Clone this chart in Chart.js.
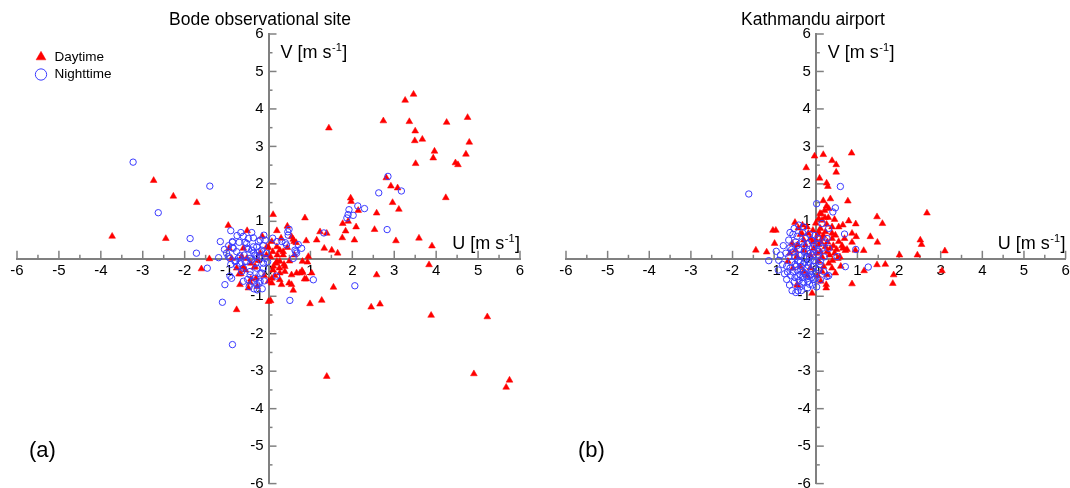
<!DOCTYPE html>
<html>
<head>
<meta charset="utf-8">
<script src="https://cdn.jsdelivr.net/npm/chart.js@4.4.0/dist/chart.umd.min.js"></script>
<style>
html,body{margin:0;padding:0;background:#fff;overflow:hidden;width:1070px;height:488px;}
#wa{position:absolute;left:0;top:0;width:540px;height:488px;}
#wb{position:absolute;left:540px;top:0;width:530px;height:488px;}
</style>
</head>
<body>
<div id="wa"><canvas id="ca"></canvas></div>
<div id="wb"><canvas id="cb"></canvas></div>
<script>
// ---------- data: [U, V] in m s-1 ----------
const bodeDay = [
  [-3.73,0.60],[-2.74,2.09],[-2.27,1.67],[-1.71,1.50],[-2.45,0.54],[-0.96,0.89],[-0.51,0.75],[-0.94,0.28],
  [-1.41,0.00],[-1.60,-0.27],[-0.76,-1.36],[-0.66,-0.40],[-0.44,-0.63],[-0.27,-0.74],[-0.30,-0.52],[0.00,-1.14],
  [0.05,-1.12],[0.08,-0.52],[0.31,-0.69],[0.49,-0.65],[0.67,-0.38],[0.82,-0.37],[0.86,-0.54],[0.90,-0.54],
  [0.99,-1.20],[1.27,-1.11],[1.55,-0.76],[0.11,1.18],[0.45,0.87],[0.87,1.09],[0.59,0.52],[0.66,0.43],
  [0.90,0.48],[1.15,0.50],[1.23,0.72],[1.39,0.68],[1.33,0.28],[1.51,0.23],[1.65,0.15],[1.76,0.56],
  [1.77,0.94],[1.84,0.74],[1.90,1.00],[1.96,1.62],[1.97,1.53],[2.14,1.29],[2.09,0.85],[2.05,0.50],
  [3.46,4.39],[3.26,4.23],[2.74,3.68],[3.36,3.66],[4.25,3.64],[4.75,3.77],[1.44,3.49],[3.50,3.41],
  [3.49,3.15],[3.67,3.19],[4.79,3.11],[3.96,2.87],[3.93,2.69],[4.71,2.79],[3.51,2.54],[4.46,2.56],
  [4.52,2.51],[2.81,2.16],[2.92,1.94],[3.08,1.89],[2.96,1.50],[3.11,1.32],[4.23,1.63],[2.58,1.22],
  [2.53,0.78],[3.04,0.48],[3.59,0.55],[3.90,0.34],[3.83,-0.16],[2.58,-0.43],[0.81,-0.07],[0.93,-0.09],
  [0.80,-0.32],[1.03,-0.38],[0.95,0.06],[2.45,-1.29],[2.66,-1.21],[3.88,-1.51],[5.22,-1.55],[1.39,-3.14],
  [4.90,-3.07],[5.75,-3.24],[5.67,-3.43],[0.59,-0.84],
  [-0.60,0.28],[0.08,0.46],[0.20,0.32],[0.00,0.30],[0.35,0.19],[0.10,0.19],[0.21,0.10],[-0.88,0.01],
  [-0.60,-0.23],[-0.70,-0.41],[-0.76,-0.25],[-0.34,-0.23],[-0.42,-0.54],[0.00,-0.60],[0.18,-0.12],[0.27,-0.07],
  [0.37,-0.15],[0.50,-0.06],[0.26,-0.25],[0.39,-0.34],[0.55,-0.43],[0.27,-0.56],[0.08,-0.65],[0.55,-0.69],
  [0.75,-0.38],[-0.68,-0.69],[-0.48,-0.78],[0.55,0.59],[0.61,0.46],[-0.64,0.06],[-0.52,0.01],[-0.42,-0.12],
  [-0.32,-0.21],[-0.20,0.15],[-0.04,0.32],[0.27,0.23],[0.35,0.10],[0.20,-0.07],[0.11,-0.30],[0.27,-0.38],
  [0.39,-0.21],[-0.15,0.60],[-0.05,0.10],[0.05,0.05],[0.12,-0.20],[-0.10,-0.45],[0.15,-0.45],[-0.55,-0.30],
  [0.45,0.30],[0.62,0.10],[-0.25,-0.05],[0.30,0.55],[0.20,0.75]
];
const bodeNight = [
  [-3.23,2.58],[-1.40,1.94],[-2.63,1.23],[-1.87,0.54],[-1.72,0.15],[-0.90,0.75],[-0.66,0.70],[-1.15,0.46],
  [-0.86,0.44],[-1.46,-0.25],[-0.36,0.56],[-0.11,0.63],[-1.19,0.03],[-1.04,-0.69],[-1.10,-1.16],[-0.88,-0.52],
  [-0.92,-0.46],[-0.46,-0.74],[-0.35,-0.80],[-0.22,-0.65],[0.19,-0.46],[0.51,-1.11],[1.07,-0.56],[2.06,-0.72],
  [0.46,0.72],[0.47,0.63],[0.40,0.43],[0.43,0.37],[0.63,0.23],[0.65,0.19],[1.32,0.69],[1.87,1.09],
  [1.90,1.18],[2.13,1.41],[-0.86,-2.29],[2.85,2.20],[3.17,1.81],[2.63,1.76],[2.29,1.34],[1.92,1.31],
  [2.02,1.16],[2.83,0.78],[0.49,0.79],
  [-0.48,0.54],[-0.56,0.44],[-0.70,0.44],[-0.24,0.46],[-0.86,0.30],[-0.76,0.19],[-0.48,0.26],[-0.36,0.32],
  [-0.12,0.35],[0.32,0.46],[0.71,0.38],[0.79,0.28],[-0.22,0.19],[-0.28,0.08],[-0.68,0.08],[-0.78,-0.06],
  [-0.52,-0.07],[-0.40,-0.03],[-0.64,-0.34],[-0.30,-0.12],[-0.44,-0.43],[-0.32,-0.52],[-0.16,-0.38],[-0.12,-0.25],
  [-0.10,-0.59],[0.59,0.01],[-0.28,-0.69],[-0.27,-0.83],[-0.86,0.46],[-0.84,0.28],[-0.96,0.06],[-0.92,0.01],
  [-0.52,0.41],[-0.52,0.28],[-0.40,0.23],[-0.28,0.32],[-0.16,0.23],[-0.32,0.10],[-0.44,0.01],[-0.56,-0.07],
  [-0.68,-0.12],[-0.72,0.01],[-0.80,-0.07],[-0.60,-0.25],[-0.44,-0.34],[-0.28,-0.25],[-0.12,-0.12],[-0.08,0.01],
  [-0.20,0.50],[0.20,0.46],[0.67,0.15],[-0.20,-0.60],
  [-0.60,0.60],[-0.75,0.62],[-0.95,0.35],[-1.00,0.15],[-0.58,0.10],[-0.35,0.15],[-0.18,0.05],[-0.05,0.15],
  [-0.02,-0.08],[-0.20,-0.40],[-0.50,-0.55],[-0.60,-0.60],[-0.36,-0.60],[-0.15,-0.80],[-0.40,0.70],[-0.08,0.50],
  [0.10,0.55],[-0.75,-0.20],[-0.90,-0.15],[-1.05,0.25]
];
const ktmDay = [
  [-0.96,0.76],[-1.03,0.76],[-0.99,0.41],[-1.44,0.23],[-1.18,0.18],[-0.50,0.97],[-0.42,0.82],[-0.33,0.67],
  [-0.23,2.43],[-0.57,0.41],[-0.44,0.37],[-0.67,-0.07],[-0.44,-0.71],[-0.03,2.74],[0.18,2.78],[0.86,2.82],
  [0.39,2.62],[0.49,2.51],[0.49,2.31],[0.09,2.15],[0.26,2.02],[0.29,1.93],[0.77,1.54],[0.26,1.41],
  [0.21,1.29],[0.31,1.34],[0.10,1.21],[0.22,1.10],[2.67,1.22],[1.47,1.12],[1.60,0.94],[0.79,1.01],
  [0.96,0.93],[0.26,0.92],[0.39,0.85],[1.31,0.59],[0.97,0.59],[0.87,0.68],[1.48,0.44],[2.51,0.50],
  [2.54,0.38],[1.15,0.22],[0.95,0.23],[2.01,0.10],[2.44,0.10],[0.69,0.54],[0.63,0.35],[0.75,0.25],
  [1.47,-0.16],[1.67,-0.15],[1.16,-0.32],[1.87,-0.43],[1.85,-0.66],[0.87,-0.67],[0.25,-0.69],[0.25,-0.78],
  [-0.09,-0.92],[-0.45,-0.69],[3.10,0.21],[0.87,0.44],[0.71,0.22],[0.65,0.28],[3.03,-0.32],[0.53,0.01],
  [0.31,-0.12],[0.39,-0.25],[0.47,-0.38],[0.27,-0.43],
  [-0.37,0.65],[-0.29,0.50],[-0.13,0.54],[0.00,0.50],[0.07,0.38],[0.15,0.54],[0.23,0.32],[0.35,0.28],
  [0.27,0.19],[0.11,0.19],[-0.05,0.28],[-0.13,0.10],[-0.49,0.23],[-0.45,0.06],[0.07,-0.07],[0.19,-0.21],
  [0.15,-0.34],[-0.25,0.37],[-0.21,0.85],[-0.07,0.76],[0.11,0.81],[0.23,0.72],[0.47,0.63],[0.55,0.46],
  [0.39,0.54],[-0.37,-0.21],[-0.29,-0.34],[-0.13,-0.25],[0.07,1.07],[0.15,1.03],[0.07,0.72],[0.39,0.68],
  [0.05,0.65],[0.12,0.45],[0.18,0.62],[0.28,0.45],[0.33,0.10],[0.42,0.35],[0.45,0.15],[0.50,0.25],
  [0.58,0.05],[0.60,-0.20],[0.40,-0.05],[0.15,0.05],[0.02,0.15],[-0.08,0.45],[-0.18,0.68],[-0.28,0.22],
  [-0.32,0.90],[0.00,0.95],[0.13,1.20],[0.18,1.55],[0.30,1.10],[0.35,1.60],[0.45,1.05],[0.55,0.85],
  [0.65,0.90],[-0.20,-0.45],[0.05,-0.45],[0.12,-0.60],[-0.55,-0.25],[-0.62,0.15]
];
const ktmNight = [
  [-1.61,1.73],[-1.13,-0.05],[-0.89,-0.04],[-0.52,0.81],[-0.41,0.90],[-0.29,0.85],[-0.43,-0.85],[0.59,1.93],
  [0.02,1.47],[0.47,1.36],[0.41,1.25],[0.15,0.94],[0.31,0.81],[0.69,0.66],[0.71,-0.21],[1.26,-0.22],
  [0.31,-0.45],[0.51,0.06],[0.00,-0.38],[0.96,0.25],[-0.33,-0.65],[0.19,-0.34],[0.11,-0.56],[0.00,-0.52],
  [-0.62,0.30],[-0.55,0.18],[-0.48,0.45],[-0.40,0.25],[-0.35,0.10],[-0.28,0.35],[-0.20,0.20],[-0.15,0.05],
  [-0.08,0.28],[-0.05,-0.05],[-0.65,0.05],[-0.58,-0.08],[-0.50,-0.15],[-0.42,-0.05],[-0.35,-0.20],[-0.27,-0.10],
  [-0.18,-0.18],[-0.10,-0.30],[-0.62,-0.25],[-0.55,-0.35],[-0.45,-0.30],[-0.38,-0.42],[-0.30,-0.35],[-0.22,-0.48],
  [-0.12,-0.42],[-0.05,-0.55],[-0.50,-0.50],[-0.40,-0.58],[-0.30,-0.62],[-0.18,-0.60],[-0.08,-0.70],[-0.60,-0.45],
  [-0.70,-0.20],[-0.72,0.15],[-0.45,0.60],[-0.25,0.55],[-0.10,0.50],[0.05,0.12],[0.10,-0.15],[0.05,0.40],
  [-0.32,0.70],[-0.55,0.65],[-0.20,-0.78],[-0.38,-0.75],[0.15,0.28],[-0.68,-0.35],[-0.15,0.65],[0.20,0.05],
  [0.22,0.45],[-0.02,0.62],[0.27,0.54],[0.31,0.28],[0.11,-0.07],[0.07,-0.30],[-0.17,-0.47],[0.27,-0.47],
  [-0.85,0.10],[-0.80,-0.15],[-0.78,0.35],[-0.75,-0.40],[-0.70,-0.55],[-0.65,0.50],[-0.63,-0.70],[-0.58,0.25],
  [-0.52,-0.62],[-0.50,0.05],[-0.47,-0.20],[-0.45,0.35],[-0.43,-0.48],[-0.40,0.10],[-0.38,-0.10],[-0.36,-0.30],
  [-0.33,0.45],[-0.32,-0.50],[-0.28,0.20],[-0.26,-0.40],[-0.24,0.00],[-0.22,-0.25],[-0.20,0.40],[-0.17,-0.08],
  [-0.15,-0.68],[-0.13,0.15],[-0.10,-0.50],[-0.07,0.10],[-0.05,-0.20],[-0.03,0.35],[0.00,-0.10],[0.02,-0.75],
  [0.05,0.55],[0.08,0.20],[-0.90,-0.30],[-0.95,0.20],[-0.57,-0.85],[-0.48,-0.90],[-0.62,0.70],[-0.35,-0.85]
];
const panelTitles = ['Bode observational site', 'Kathmandu airport'];
const panelLetters = ['(a)', '(b)'];
const seriesNames = ['Daytime', 'Nighttime'];
const tickValues = [-6,-5,-4,-3,-2,-1,0,1,2,3,4,5,6];
const tickLabels = ['-6','-5','-4','-3','-2','-1','0','1','2','3','4','5','6'];
// ------------------------------------------

Chart.defaults.font.family = '"Liberation Sans", Arial, Helvetica, sans-serif';
Chart.defaults.color = '#000';

const AXIS_GRAY = '#808080';
const DAY_COLOR = '#ff0000';
const NIGHT_COLOR = '#3a3aff';

function toXY(arr) { return arr.map(p => ({x: p[0], y: p[1]})); }

function drawUnitLabel(ctx, x, y, align) {
  const mainFont = '18px "Liberation Sans", Arial, sans-serif';
  const supFont = '11px "Liberation Sans", Arial, sans-serif';
  return function(prefix) {
    ctx.font = mainFont;
    const w1 = ctx.measureText(prefix + ' [m s').width;
    ctx.font = supFont;
    const w2 = ctx.measureText('-1').width;
    ctx.font = mainFont;
    const w3 = ctx.measureText(']').width;
    const total = w1 + w2 + w3;
    let sx = align === 'right' ? x - total : x;
    ctx.textAlign = 'left';
    ctx.textBaseline = 'alphabetic';
    ctx.fillStyle = '#000';
    ctx.font = mainFont;
    ctx.fillText(prefix + ' [m s', sx, y);
    ctx.font = supFont;
    ctx.fillText('-1', sx + w1 + 0.5, y - 7);
    ctx.font = mainFont;
    ctx.fillText(']', sx + w1 + w2 + 1, y);
  };
}

const axisDecor = {
  id: 'axisDecor',
  afterLayout(chart, args, opts) {
    if (chart.legend && opts.legendAt) {
      chart.legend.left = chart.chartArea.left + opts.legendAt[0];
      chart.legend.top = opts.legendAt[1];
    }
  },
  beforeDatasetsDraw(chart, args, opts) {
    const ctx = chart.ctx;
    const xs = chart.scales.x, ys = chart.scales.y;
    const x0 = xs.getPixelForValue(0), y0 = ys.getPixelForValue(0);
    ctx.save();
    ctx.strokeStyle = AXIS_GRAY;
    ctx.lineWidth = 1.5;
    const first = tickValues[0], last = tickValues[tickValues.length - 1];
    for (let t = first; t <= last + 1e-9; t += 0.5) {
      if (Math.abs(t) < 1e-9) continue;
      const len = Number.isInteger(t) ? 8 : 4;
      const px = xs.getPixelForValue(t);
      ctx.beginPath(); ctx.moveTo(px, y0); ctx.lineTo(px, y0 - len); ctx.stroke();
      const py = ys.getPixelForValue(t);
      ctx.beginPath(); ctx.moveTo(x0, py); ctx.lineTo(x0 + len, py); ctx.stroke();
    }
    drawUnitLabel(ctx, xs.getPixelForValue(last) - 1, y0 - 10, 'right')('U');
    drawUnitLabel(ctx, x0 + 12, ys.getPixelForValue(last) + 23.5, 'left')('V');
    ctx.font = '22px "Liberation Sans", Arial, sans-serif';
    ctx.textAlign = 'left';
    ctx.textBaseline = 'middle';
    ctx.fillStyle = '#000';
    ctx.fillText(opts.letter, chart.chartArea.left + 12, 451);
    ctx.restore();
  }
};

function makeChart(canvasId, idx, dayData, nightData, padLeft, padRight, spacer, showLegend) {
  const zeroPad = s => { s.paddingLeft = 0; s.paddingRight = 0; s.paddingTop = 0; s.paddingBottom = 0; };
  return new Chart(document.getElementById(canvasId), {
    type: 'scatter',
    data: {
      datasets: [
        {
          label: seriesNames[0], data: toXY(dayData), xAxisID: 'x', yAxisID: 'y', order: 1,
          pointStyle: 'triangle', pointRadius: 3.9, pointHoverRadius: 3.9,
          backgroundColor: DAY_COLOR, borderColor: DAY_COLOR, borderWidth: 0.5
        },
        {
          label: seriesNames[1], data: toXY(nightData), xAxisID: 'x', yAxisID: 'y', order: 0,
          pointStyle: 'circle', pointRadius: 3.2, pointHoverRadius: 3.2,
          backgroundColor: 'rgba(255,255,255,0)', borderColor: NIGHT_COLOR, borderWidth: 1
        }
      ]
    },
    options: {
      responsive: true, maintainAspectRatio: false, animation: false, devicePixelRatio: 1,
      events: [],
      layout: { padding: { left: padLeft, right: padRight, top: 0, bottom: 1 } },
      scales: {
        x: {
          type: 'linear', position: 'center', min: -6, max: 6,
          afterBuildTicks: s => { s.ticks = tickValues.map(v => ({value: v})); },
          ticks: { autoSkip: false, maxRotation: 0, padding: 3, color: '#000', font: { size: 15 },
                   callback: v => tickLabels[tickValues.indexOf(v)] },
          grid: { display: false, drawTicks: false },
          border: { display: true, color: AXIS_GRAY, width: 2 },
          afterFit: s => { s.height = 0; zeroPad(s); }
        },
        y: {
          type: 'linear', position: 'center', min: -6, max: 6,
          afterBuildTicks: s => { s.ticks = tickValues.map(v => ({value: v})); },
          ticks: { autoSkip: false, padding: 5, color: '#000', font: { size: 15 },
                   callback: v => tickLabels[tickValues.indexOf(v)] },
          grid: { display: false, drawTicks: false },
          border: { display: true, color: AXIS_GRAY, width: 2 },
          afterFit: s => { s.width = 0; zeroPad(s); }
        },
        spacer: {
          type: 'linear', axis: 'y', position: 'left', display: true,
          grid: { display: false }, border: { display: false }, ticks: { display: false },
          afterFit: s => { s.width = spacer; zeroPad(s); }
        }
      },
      plugins: {
        title: { display: true, text: panelTitles[idx], color: '#000',
                 font: { size: 17.5, weight: 'normal' }, padding: { top: 10, bottom: 3 } },
        legend: {
          display: showLegend, position: 'chartArea', align: 'start',
          labels: { usePointStyle: true, boxHeight: 8, padding: 4, color: '#000', font: { size: 13.5 },
                    sort: (a, b) => a.datasetIndex - b.datasetIndex }
        },
        tooltip: { enabled: false },
        axisDecor: { letter: panelLetters[idx], legendAt: showLegend ? [13.25, 46.25] : null }
      }
    },
    plugins: [axisDecor]
  });
}

makeChart('ca', 0, bodeDay, bodeNight, 0, 20, 17, true);
makeChart('cb', 1, ktmDay, ktmNight, 18, 2, 8, false);
</script>
</body>
</html>
